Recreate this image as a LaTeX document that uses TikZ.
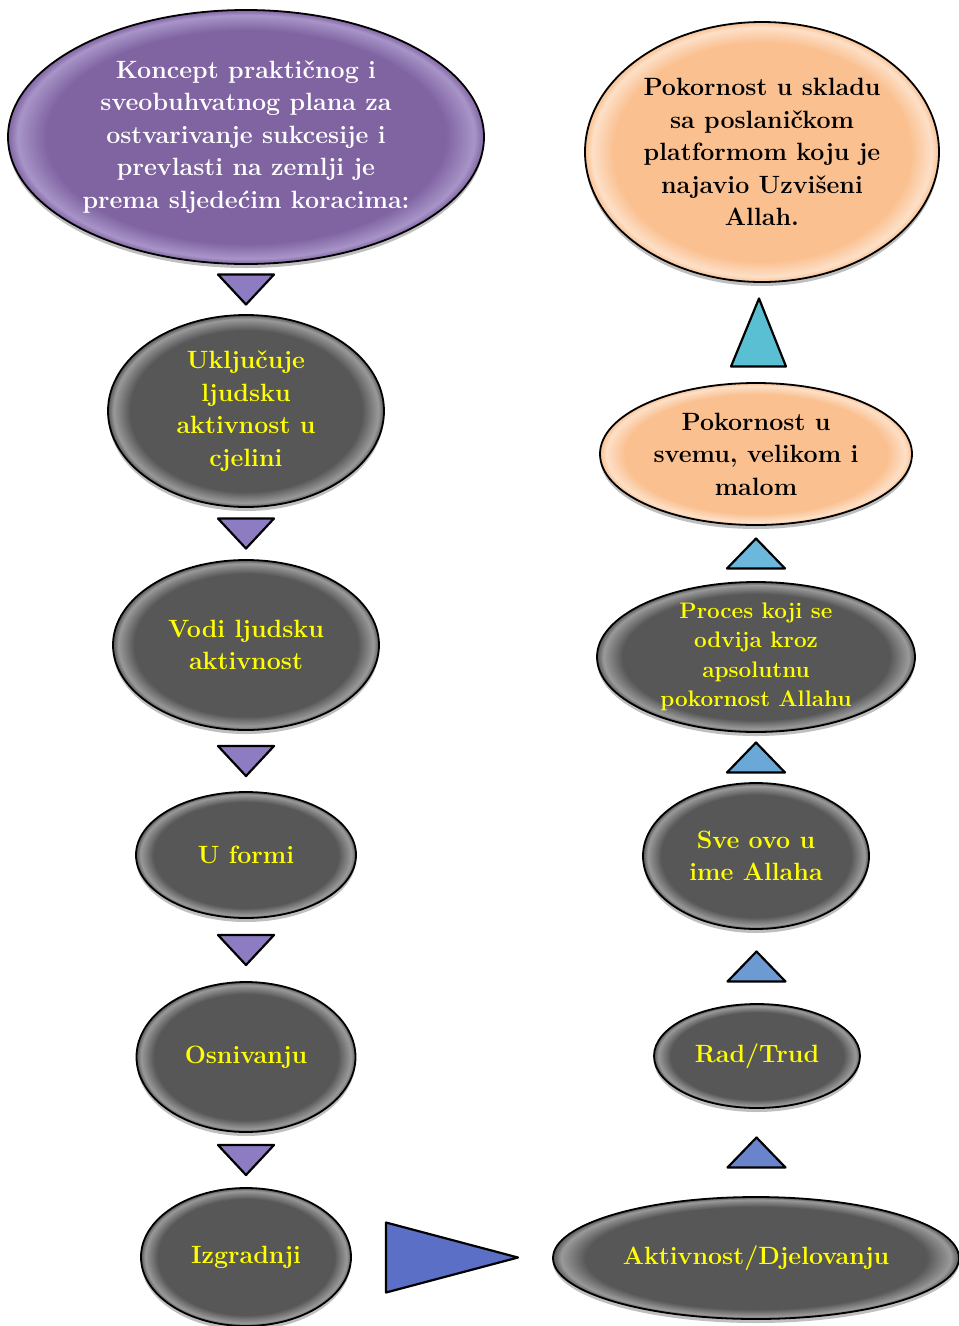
\documentclass[tikz,border=0pt]{standalone}
\usetikzlibrary{shapes.geometric,shadows,calc,positioning}
\definecolor{ljubicasta}{HTML}{8064A2}
\definecolor{ljubtrokut}{HTML}{8E7CC3}
\definecolor{tamnosiva}{HTML}{575757}
\definecolor{sivarub}{HTML}{9A9A9A}
\definecolor{narandza}{HTML}{FAC090}
\definecolor{narandzarub}{HTML}{FDE0C8}
\definecolor{ljubrub}{HTML}{A895C8}
\definecolor{zuta}{HTML}{FFFF00}
\definecolor{plava1}{HTML}{6A84CC}
\definecolor{plava2}{HTML}{6E9AD4}
\definecolor{plava3}{HTML}{6AA8D8}
\definecolor{plava4}{HTML}{6BB8DC}
\definecolor{plava5}{HTML}{5BBFD3}
\definecolor{desna}{HTML}{5C6FC6}
\pgfdeclareradialshading{sjajsiva}{\pgfpointorigin}{color(0bp)=(tamnosiva); color(21bp)=(tamnosiva); color(24bp)=(sivarub); color(25bp)=(tamnosiva); color(50bp)=(tamnosiva)}
\pgfdeclareradialshading{sjajnar}{\pgfpointorigin}{color(0bp)=(narandza); color(21bp)=(narandza); color(24bp)=(narandzarub); color(25bp)=(narandza); color(50bp)=(narandza)}
\pgfdeclareradialshading{sjajljub}{\pgfpointorigin}{color(0bp)=(ljubicasta); color(21bp)=(ljubicasta); color(24bp)=(ljubrub); color(25bp)=(ljubicasta); color(50bp)=(ljubicasta)}

\begin{document}
\begin{tikzpicture}[x=1pt,y=-1pt,
    elipsa/.style={ellipse, draw=black, line width=1.8pt, inner sep=0pt,
      drop shadow={shadow xshift=0pt, shadow yshift=-4pt, opacity=0.25, fill=black}},
    tekst/.style={align=center, font=\fontsize{25}{32.5}\selectfont\bfseries},
    siva/.style={elipsa, shading=sjajsiva},
    nar/.style={elipsa, shading=sjajnar},
    ljub/.style={elipsa, shading=sjajljub},
    zut/.style={tekst, text=zuta},
    crn/.style={tekst, text=black},
    trokut/.style={draw=black, line width=2.2pt, line join=round}]
    \useasboundingbox (0,0) rectangle (959,1326);

    % lijeva kolona
    \node[ljub, minimum width=476pt, minimum height=254pt,
      label={[tekst, text=white]center:Koncept praktičnog i\\sveobuhvatnog plana za\\ostvarivanje sukcesije i\\prevlasti na zemlji je\\prema sljedećim koracima:}] (kon) at (246,137) {};
    \node[siva, minimum width=276pt, minimum height=192pt,
      label={[zut]center:Uključuje\\ljudsku\\aktivnost u\\cjelini}] (ukl) at (246,411) {};
    \node[siva, minimum width=266pt, minimum height=170pt,
      label={[zut]center:Vodi ljudsku\\aktivnost}] (vodi) at (246,645) {};
    \node[siva, minimum width=220pt, minimum height=126pt,
      label={[zut]center:U formi}] (forma) at (246,855) {};
    \node[siva, minimum width=219pt, minimum height=150pt,
      label={[zut]center:Osnivanju}] (osn) at (246,1057) {};
    \node[siva, minimum width=210pt, minimum height=138pt,
      label={[zut]center:Izgradnji}] (izg) at (246,1257) {};

    % desna kolona
    \node[siva, minimum width=406pt, minimum height=122pt,
      label={[zut]center:Aktivnost/Djelovanju}] (akt) at (756,1258) {};
    \node[siva, minimum width=206pt, minimum height=104pt,
      label={[zut]center:Rad/Trud}] (rad) at (757,1056) {};
    \node[siva, minimum width=226pt, minimum height=146pt,
      label={[zut]center:Sve ovo u\\ime Allaha}] (ime) at (756,856) {};
    \node[siva, minimum width=318pt, minimum height=150pt,
      label={[zut, font=\fontsize{22.5}{29.5}\selectfont\bfseries]center:Proces koji se\\odvija kroz\\apsolutnu\\pokornost Allahu}] (proc) at (756,657) {};
    \node[nar, minimum width=312pt, minimum height=142pt,
      label={[crn]center:Pokornost u\\svemu, velikom i\\malom}] (pok) at (756,454) {};
    \node[nar, minimum width=354pt, minimum height=260pt,
      label={[crn]center:Pokornost u skladu\\sa poslaničkom\\platformom koju je\\najavio Uzvišeni\\Allah.}] (plat) at (762,152) {};

    % strelice prema dolje
    \foreach \a/\b in {kon/ukl, ukl/vodi, vodi/forma, forma/osn, osn/izg}
      \draw[trokut, fill=ljubtrokut] ($(\a.south)!0.5!(\b.north)$) ++(-28,-15) -- ++(56,0) -- ++(-28,30) -- cycle;

    % strelice prema gore
    \foreach \a/\b/\boja in {akt/rad/plava1, rad/ime/plava2, ime/proc/plava3, proc/pok/plava4}
      \draw[trokut, fill=\boja] ($(\a.north)!0.5!(\b.south)$) ++(-29,15) -- ++(58,0) -- ++(-29,-30) -- cycle;
    \draw[trokut, fill=plava5] ($(pok.north)!0.5!(plat.south)$) ++(-28,34) -- ++(55,0) -- ++(-27,-68) -- cycle;

    % strelica desno
    \draw[trokut, fill=desna] ($(izg.east)!0.5!(akt.west)$) ++(-66,-35) -- ++(0,70) -- ++(132,-35) -- cycle;
\end{tikzpicture}
\end{document}
